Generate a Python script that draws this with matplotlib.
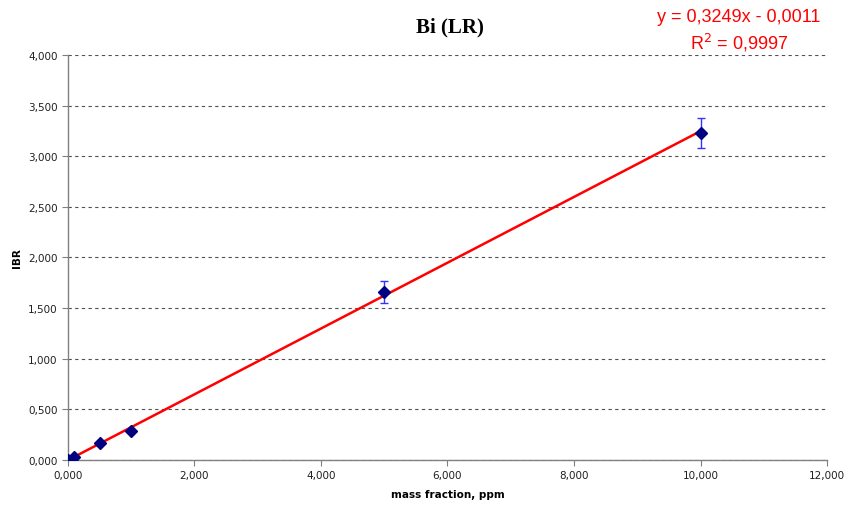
import matplotlib
matplotlib.use("Agg")
import matplotlib.pyplot as plt
from matplotlib.ticker import FuncFormatter

# calibration points
mass_fraction = [0.0, 0.1, 0.5, 1.0, 5.0, 10.0]
ibr = [0.0, 0.03, 0.17, 0.29, 1.66, 3.23]
ibr_err = [0.0, 0.0, 0.0, 0.0, 0.105, 0.145]

slope = 0.3249
intercept = -0.0011
fit_x = [0.0, 10.0]

x_ticks = [0, 2, 4, 6, 8, 10, 12]
y_ticks = [0, 0.5, 1, 1.5, 2, 2.5, 3, 3.5, 4]


def comma_fmt(v, pos):
    return f"{v:,.3f}".replace(".", ",")


fig = plt.figure(figsize=(8.51, 5.10), dpi=100)
ax = fig.add_axes([0.0799, 0.0961, 0.8919, 0.7941])

ax.set_xlim(0, 12)
ax.set_ylim(0, 4)
ax.set_xticks(x_ticks)
ax.set_yticks(y_ticks)
ax.xaxis.set_major_formatter(FuncFormatter(comma_fmt))
ax.yaxis.set_major_formatter(FuncFormatter(comma_fmt))

ax.yaxis.grid(True, linestyle=(0, (3, 3)), color="#505050", linewidth=0.8)
ax.set_axisbelow(True)
for side in ("top", "right"):
    ax.spines[side].set_visible(False)
for side in ("left", "bottom"):
    ax.spines[side].set_color("#808080")
    ax.spines[side].set_linewidth(1.0)
ax.tick_params(direction="out", length=4, color="#808080", labelsize=7.5,
               labelcolor="#202020")

fit_y = [slope * v + intercept for v in fit_x]
ax.plot(fit_x, fit_y, color="#ff0000", linewidth=1.8, zorder=2)

ax.errorbar(mass_fraction, ibr, yerr=ibr_err, fmt="none", ecolor="#3333ff",
            elinewidth=1.0, capsize=3, capthick=1.0, zorder=3)
ax.plot(mass_fraction, ibr, linestyle="none", marker="D", markersize=6,
        color="#000080", zorder=4)

ax.set_xlabel("mass fraction, ppm", fontsize=7.5, fontweight="bold", labelpad=6)
ax.set_ylabel("IBR", fontsize=7.5, fontweight="bold", labelpad=4)

fig.text(0.529, 0.947, "Bi (LR)", fontsize=15, fontweight="bold",
         family="Liberation Serif", ha="center", va="center")
fig.text(0.868, 0.965, "y = 0,3249x - 0,0011", fontsize=13, color="#ff0000",
         family="Liberation Sans", ha="center", va="center")
fig.text(0.868, 0.915, "R$^2$ = 0,9997", fontsize=13, color="#ff0000",
         family="Liberation Sans", ha="center", va="center")

fig.savefig("out.png", dpi=100)
